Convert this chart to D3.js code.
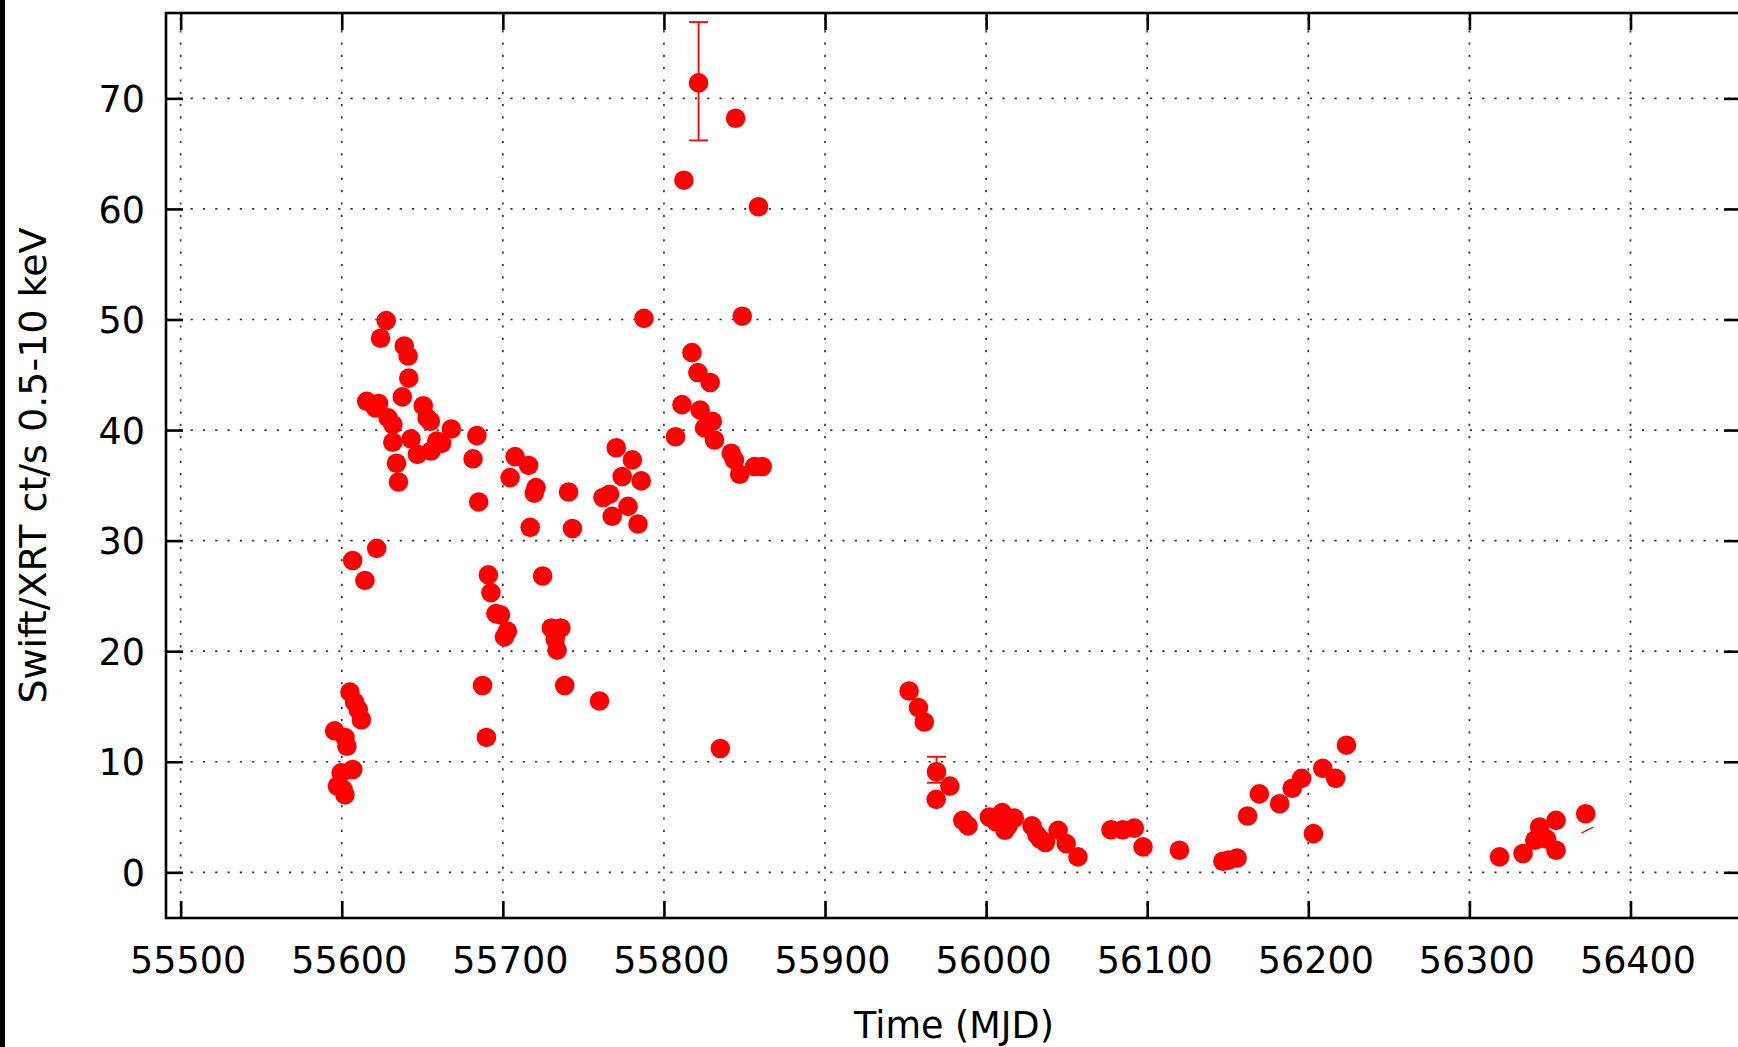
<!DOCTYPE html>
<html>
<head>
<meta charset="utf-8">
<script src="https://cdn.jsdelivr.net/npm/d3@7"></script>
<style>
  html, body { margin: 0; padding: 0; background: #fff; }
  svg { display: block; }
  text { font-family: "DejaVu Sans", sans-serif; fill: #000; }
</style>
</head>
<body>
<script>
// ---------------- data ----------------
const mjd = [
  55595.6, 55597.3, 55599.6, 55600.8, 55602.0, 55602.0, 55603.2, 55605.1, 55606.8, 55608.0,
  55610.3, 55612.2, 55606.8, 55614.4, 55621.7, 55615.5, 55621.0, 55622.9, 55624.1, 55627.6,
  55628.8, 55631.7, 55631.7, 55634.0, 55635.2, 55637.6, 55638.8, 55641.2, 55641.6, 55643.0,
  55647.0, 55650.6, 55653.0, 55655.0, 55655.4, 55659.0, 55662.0, 55668.0, 55681.5, 55683.9,
  55685.0, 55687.4, 55689.8, 55691.0, 55692.6, 55695.7, 55698.5, 55701.0, 55702.8, 55704.5,
  55707.6, 55716.0, 55717.0, 55719.5, 55720.6, 55724.7, 55730.1, 55732.5, 55733.7, 55736.0,
  55738.4, 55740.8, 55743.2, 55760.0, 55762.2, 55766.3, 55767.9, 55770.4, 55774.1, 55777.7,
  55780.4, 55783.9, 55785.9, 55787.6, 55807.2, 55811.2, 55812.4, 55817.4, 55821.5, 55821.1,
  55822.5, 55825.2, 55828.7, 55830.0, 55831.4, 55835.0, 55841.8, 55843.8, 55844.5, 55847.0,
  55848.6, 55856.3, 55858.7, 55861.0, 55952.2, 55958.0, 55961.6, 55969.2, 55977.5, 55969.0,
  55985.5, 55988.8, 56002.0, 56006.0, 56010.0, 56011.7, 56013.5, 56017.5, 56028.5, 56031.5,
  56033.6, 56036.8, 56044.7, 56049.7, 56057.0, 56077.5, 56084.8, 56092.0, 56097.4, 56120.0,
  56147.0, 56150.6, 56155.8, 56162.3, 56169.6, 56182.2, 56190.0, 56195.9, 56203.2, 56209.0,
  56217.0, 56223.7, 56318.7, 56333.3, 56340.6, 56343.6, 56348.0, 56353.8, 56353.8, 56372.2
];
const rate = [
  12.8, 7.8, 9.0, 7.5, 7.0, 12.2, 11.4, 16.3, 9.3, 15.4,
  14.7, 13.8, 28.2, 26.4, 29.3, 42.6, 42.0, 42.4, 48.3, 49.9,
  41.1, 40.5, 38.9, 37.0, 35.3, 43.0, 47.6, 46.7, 44.7, 39.2,
  37.8, 42.2, 41.1, 40.8, 38.1, 39.0, 38.8, 40.1, 37.4, 39.5,
  33.5, 16.9, 12.2, 26.9, 25.3, 23.4, 23.3, 21.3, 21.8, 35.7,
  37.6, 36.8, 31.2, 34.3, 34.8, 26.8, 22.1, 21.1, 20.1, 22.1,
  16.9, 34.4, 31.1, 15.5, 33.9, 34.2, 32.2, 38.4, 35.8, 33.1,
  37.3, 31.5, 35.4, 50.1, 39.4, 42.3, 62.6, 47.0, 71.4, 45.2,
  41.8, 40.2, 44.3, 40.8, 39.1, 11.2, 37.9, 37.3, 68.2, 36.0,
  50.3, 36.7, 60.2, 36.7, 16.4, 14.9, 13.6, 9.1, 7.8, 6.6,
  4.7, 4.2, 5.0, 4.6, 5.4, 3.8, 4.2, 4.9, 4.2, 3.4,
  3.0, 2.7, 3.8, 2.6, 1.4, 3.85, 3.85, 4.0, 2.3, 2.0,
  1.0, 1.1, 1.3, 5.1, 7.1, 6.2, 7.6, 8.5, 3.5, 9.4,
  8.5, 11.5, 1.4, 1.7, 2.9, 4.1, 3.0, 2.0, 4.7, 5.3
];
// visible vertical error bars
const errMjd  = [55821.5, 55969.2];
const errLow  = [66.2, 8.1];
const errHigh = [76.9, 10.45];
// tiny stray red stroke near the last point (start / end, data units)
const strayMjd  = [56369.5, 56377.0];
const strayRate = [3.55, 4.1];

const xTicks = [55500, 55600, 55700, 55800, 55900, 56000, 56100, 56200, 56300, 56400];
const yTicks = [0, 10, 20, 30, 40, 50, 60, 70];
const xTitle = "Time (MJD)";
const yTitle = "Swift/XRT ct/s 0.5-10 keV";

// ---------------- layout ----------------
const W = 1738, H = 1047;
const L = 166, R = 1741, T = 13, B = 918;
const FS = 36.5;

const svg = d3.select("body").append("svg").attr("width", W).attr("height", H);
svg.append("rect").attr("width", W).attr("height", H).attr("fill", "#fff");
// dark strip at the left edge of the screenshot
svg.append("rect").attr("x", 0).attr("y", 0).attr("width", 5).attr("height", H).attr("fill", "#000");

const x = d3.scaleLinear().domain([55490.9, 56468.6]).range([L, R]);
const y = d3.scaleLinear().domain([-4.13, 77.72]).range([B, T]);

// grid
const grid = svg.append("g").attr("stroke", "#333").attr("stroke-width", 1.7)
  .attr("stroke-dasharray", "2.2,10.1");
grid.selectAll("line.vx").data(xTicks).join("line")
  .attr("x1", d => x(d)).attr("x2", d => x(d)).attr("y1", B).attr("y2", T);
grid.selectAll("line.hy").data(yTicks).join("line")
  .attr("y1", d => y(d)).attr("y2", d => y(d)).attr("x1", L).attr("x2", R);

// axes
const TK = 17;
const gB = svg.append("g").attr("transform", `translate(0,${B})`)
  .call(d3.axisBottom(x).tickValues(xTicks).tickSize(-TK).tickPadding(29).tickFormat(d3.format("d")));
const gT = svg.append("g").attr("transform", `translate(0,${T})`)
  .call(d3.axisTop(x).tickValues(xTicks).tickSize(-TK).tickFormat(""));
const gL = svg.append("g").attr("transform", `translate(${L},0)`)
  .call(d3.axisLeft(y).tickValues(yTicks).tickSize(-TK).tickPadding(21).tickFormat(d3.format("d")));
const gR = svg.append("g").attr("transform", `translate(${R},0)`)
  .call(d3.axisRight(y).tickValues(yTicks).tickSize(-TK).tickFormat(""));
[gB, gT, gL, gR].forEach(g => {
  g.select(".domain").remove();
  g.selectAll(".tick line").attr("stroke", "#000").attr("stroke-width", 2.6);
  g.selectAll("text").attr("font-family", "DejaVu Sans").attr("font-size", FS).attr("fill", "#000");
});
gB.selectAll(".tick text").attr("dy", "0.72em").attr("dx", 7);
gL.selectAll(".tick text").attr("dy", "0.36em");

// frame
svg.append("rect").attr("x", L).attr("y", T).attr("width", R - L).attr("height", B - T)
  .attr("fill", "none").attr("stroke", "#000").attr("stroke-width", 2.6);

// titles
svg.append("text").attr("x", (L + 1738) / 2 + 2).attr("y", 1038).attr("text-anchor", "middle")
  .attr("font-size", FS).text(xTitle);
svg.append("text").attr("transform", `translate(46,${(T + B) / 2}) rotate(-90)`)
  .attr("text-anchor", "middle").attr("font-size", 38).text(yTitle);

// data
const plot = svg.append("g");
plot.selectAll("g.err").data(errMjd.map((m, i) => ({ m, lo: errLow[i], hi: errHigh[i] }))).join("g")
  .attr("stroke", "#f00").attr("stroke-width", 1.8)
  .each(function (d) {
    const g = d3.select(this);
    g.append("line").attr("x1", x(d.m)).attr("x2", x(d.m)).attr("y1", y(d.lo)).attr("y2", y(d.hi));
    g.append("line").attr("x1", x(d.m) - 9.5).attr("x2", x(d.m) + 9.5).attr("y1", y(d.lo)).attr("y2", y(d.lo));
    g.append("line").attr("x1", x(d.m) - 9.5).attr("x2", x(d.m) + 9.5).attr("y1", y(d.hi)).attr("y2", y(d.hi));
  });
plot.append("line")
  .attr("x1", x(strayMjd[0])).attr("y1", y(strayRate[0]))
  .attr("x2", x(strayMjd[1])).attr("y2", y(strayRate[1]))
  .attr("stroke", "#f00").attr("stroke-width", 1.3);
plot.selectAll("circle").data(mjd.map((m, i) => [m, rate[i]])).join("circle")
  .attr("cx", d => x(d[0])).attr("cy", d => y(d[1])).attr("r", 9.8).attr("fill", "#f00");
</script>
</body>
</html>
